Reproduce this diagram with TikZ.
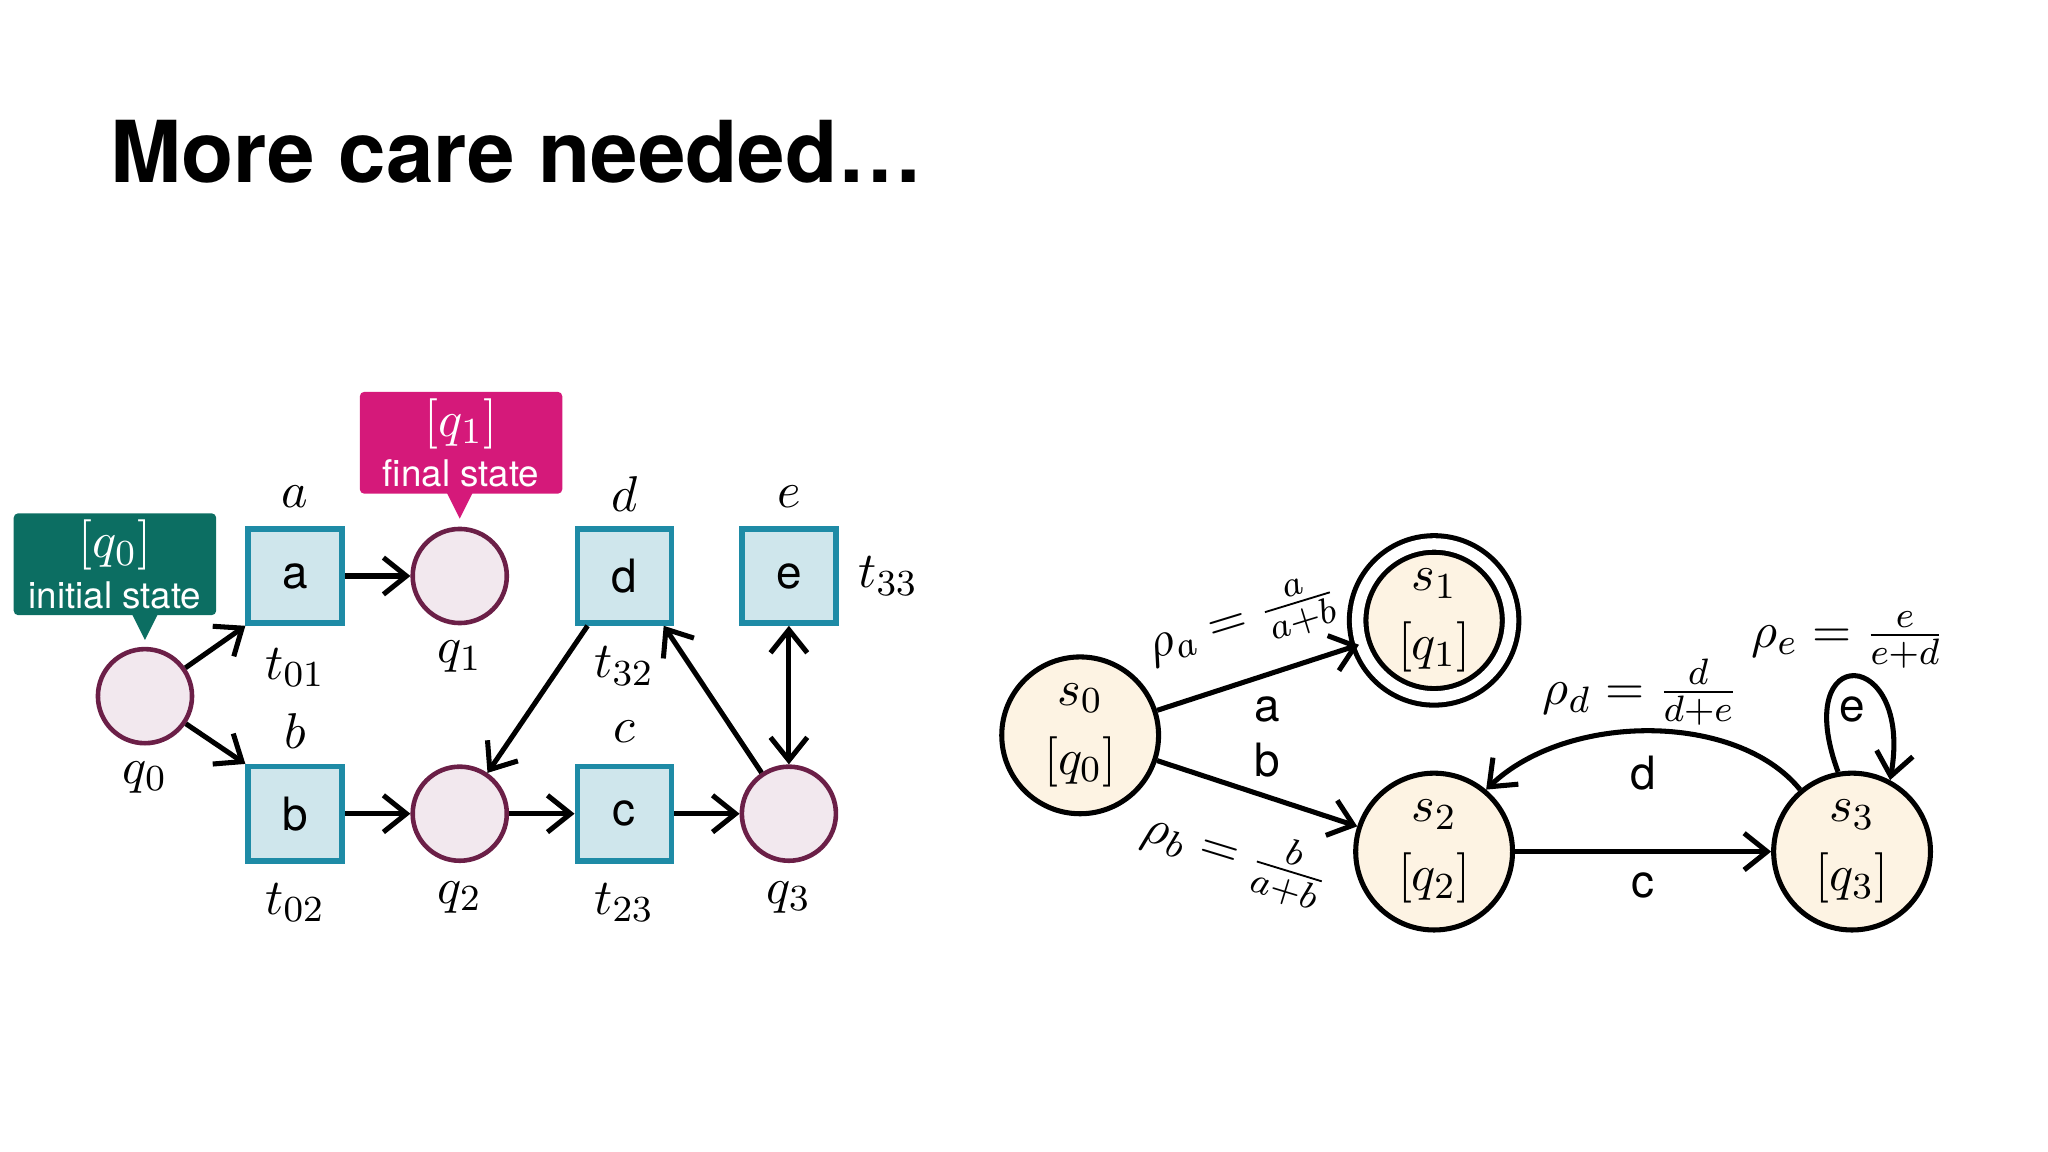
\documentclass[tikz,border=0pt]{standalone}
\usepackage{fontspec}
\setmainfont{TeX Gyre Heros}
\usetikzlibrary{arrows.meta,calc}
\definecolor{plc}{HTML}{F2E8EE}
\definecolor{pld}{HTML}{6B1F47}
\definecolor{trf}{HTML}{CFE6EC}
\definecolor{trd}{HTML}{1E8BA6}
\definecolor{teal}{HTML}{0C6E62}
\definecolor{mag}{HTML}{D5197A}
\definecolor{stf}{HTML}{FDF3E3}
\begin{document}
\begin{tikzpicture}[x=0.01cm,y=-0.01cm,
  place/.style={circle,draw=pld,fill=plc,line width=1pt,minimum size=0.72cm,inner sep=0pt},
  trans/.style={rectangle,draw=trd,fill=trf,line width=1.2pt,minimum size=0.72cm,inner sep=0pt,font=\fontsize{10}{12}\selectfont},
  lab/.style={font=\fontsize{11}{13}\selectfont},
  arr/.style={-{Straight Barb[length=5pt,width=8pt]},line width=1.1pt},
  st/.style={circle,draw=black,fill=stf,line width=1.1pt,minimum size=1.2cm,inner sep=0pt,align=center,font=\fontsize{11}{15}\selectfont},
  el/.style={font=\fontsize{10}{12}\selectfont},
  call/.style={rectangle,rounded corners=1pt,text=white,align=center,minimum width=1.55cm,minimum height=0.78cm,inner sep=1pt,font=\fontsize{8}{10}\selectfont}]
\useasboundingbox (0,0) rectangle (1568,882);
\node[anchor=base west,font=\fontsize{18.6}{22}\selectfont\bfseries] (title) at (72,140) {More care needed\ldots};
% left net
\node[place] (q0) at (111,533) {};
\node[trans] (ta) at (226,441) {a};
\node[place] (q1) at (352,441) {};
\node[trans] (td) at (478,441) {d};
\node[trans] (te) at (604,441) {e};
\node[trans] (tb) at (226,623) {b};
\node[place] (q2) at (352,623) {};
\node[trans] (tc) at (478,623) {c};
\node[place] (q3) at (604,623) {};
\node[lab] (la) at (226,380) {$a$};
\node[lab] (lt01) at (226,511) {$t_{01}$};
\node[lab] (lb) at (226,560) {$b$};
\node[lab] (lt02) at (226,691) {$t_{02}$};
\node[lab] (lq1) at (352,503) {$q_1$};
\node[lab] (ld) at (478,378) {$d$};
\node[lab] (lt32) at (478,510) {$t_{32}$};
\node[lab] (lc) at (478,560) {$c$};
\node[lab] (lt23) at (478,691) {$t_{23}$};
\node[lab] (le) at (604,380) {$e$};
\node[lab] (lt33) at (680,441) {$t_{33}$};
\node[lab] (lq0) at (111,595) {$q_0$};
\node[lab] (lq2) at (352,687) {$q_2$};
\node[lab] (lq3) at (604,687) {$q_3$};
\draw[arr] (q0) -- (ta.south west);
\draw[arr] (q0) -- (tb.north west);
\draw[arr] (ta) -- (q1);
\draw[arr] (tb) -- (q2);
\draw[arr] (q2) -- (tc);
\draw[arr] (tc) -- (q3);
\draw[arr] (td.south west) ++(10,0) coordinate (dsw) (dsw) -- (q2);
\draw[arr] (q3) -- ($(td.south east)+(-8,0)$);
\draw[arr,{Straight Barb[length=5pt,width=8pt]}-{Straight Barb[length=5pt,width=8pt]}] (te) -- (q3);
% callouts
\node[call,fill=teal] (c0) at (88,432) {\fontsize{11}{13}\selectfont$[q_0]$\\[1pt]initial state};
\fill[teal] (101,470) -- (121,470) -- (111,490) -- cycle;
\node[call,fill=mag] (c1) at (353,339) {\fontsize{11}{13}\selectfont$[q_1]$\\[1pt]final state};
\fill[mag] (342,377) -- (362,377) -- (352,397) -- cycle;
% right automaton
\node[st] (s0) at (827,563) {$s_0$\\$[q_0]$};
\node[st,double,double distance=2.5pt,minimum size=1.17cm] (s1) at (1098,475) {$s_1$\\$[q_1]$};
\node[st] (s2) at (1098,652) {$s_2$\\$[q_2]$};
\node[st] (s3) at (1418,652) {$s_3$\\$[q_3]$};
\draw[arr] (s0) -- (s1);
\draw[arr] (s0) -- (s2);
\draw[arr] (s2) -- (s3);
\draw[arr] (s3.130) .. controls (1330,545) and (1200,545) .. (s2.50);
\draw[arr] (s3.100) .. controls (1370,490) and (1465,495) .. (s3.62);
\node[el] (ea) at (970,543) {a};
\node[el] (eb) at (970,582) {b};
\node[el] (ec) at (1258,678) {c};
\node[el] (ed) at (1258,592) {d};
\node[el] (ee) at (1418,543) {e};
\node[lab,rotate=17] (ra) at (952,478) {$\rho_a=\frac{a}{a+b}$};
\node[lab,rotate=-17] (rb) at (946,655) {$\rho_b=\frac{b}{a+b}$};
\node[lab] (rd) at (1256,530) {$\rho_d=\frac{d}{d+e}$};
\node[lab] (re) at (1415,490) {$\rho_e=\frac{e}{e+d}$};
\end{tikzpicture}
\end{document}
